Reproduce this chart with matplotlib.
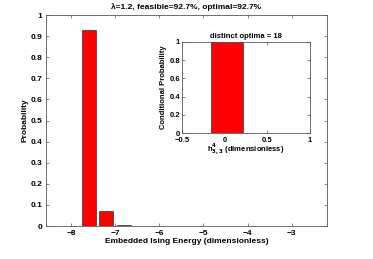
import matplotlib
matplotlib.use("Agg")
import matplotlib.pyplot as plt

plt.rcParams['font.family'] = ['Liberation Sans', 'DejaVu Sans']
plt.rcParams['font.weight'] = 'bold'

# Main histogram data
energy_centers = [-7.6, -7.2, -6.8]
probabilities = [0.927, 0.070, 0.003]
bar_width = 0.32
main_xticks = [-8, -7, -6, -5, -4, -3]
main_yticks = [0, 0.1, 0.2, 0.3, 0.4, 0.5, 0.6, 0.7, 0.8, 0.9, 1]

# Inset data
h_centers = [0.03]
cond_prob = [1.0]
h_width = 0.38
inset_xticks = [-0.5, 0, 0.5, 1]
inset_yticks = [0, 0.2, 0.4, 0.6, 0.8, 1]

fig = plt.figure(figsize=(3.73, 2.59), dpi=100)
ax = fig.add_axes([0.123, 0.127, 0.753, 0.815])
ax.bar(energy_centers, probabilities, width=bar_width, color='#ff0000',
       edgecolor='#333333', linewidth=0.5)
ax.set_xlim(-8.57, -2.205)
ax.set_ylim(0, 1)
ax.set_xticks(main_xticks)
ax.set_xticklabels([f"\u2212{abs(t)}" for t in main_xticks])
ax.set_yticks(main_yticks)
ax.set_yticklabels([f"{t:g}" for t in main_yticks])
ax.tick_params(direction='in', top=True, right=True, labelsize=6, length=2.5,
               width=0.5, color='#555555', pad=2.5)
for s in ax.spines.values():
    s.set_linewidth(0.6)
    s.set_color('#555555')
ax.set_xlabel('Embedded Ising Energy (dimensionless)', fontsize=6, labelpad=1, fontweight='bold')
ax.set_ylabel('Probability', fontsize=6, labelpad=1.5, fontweight='bold')
ax.set_title('\u03bb=1.2, feasible=92.7%, optimal=92.7%', fontsize=6, pad=4, fontweight='bold')

ins = fig.add_axes([0.488, 0.486, 0.343, 0.352])
ins.bar(h_centers, cond_prob, width=h_width, color='#ff0000',
        edgecolor='#333333', linewidth=0.5)
ins.set_xlim(-0.5, 1)
ins.set_ylim(0, 1)
ins.set_xticks(inset_xticks)
ins.set_xticklabels(["\u22120.5", "0", "0.5", "1"])
ins.set_yticks(inset_yticks)
ins.set_yticklabels([f"{t:g}" for t in inset_yticks])
ins.tick_params(direction='in', top=True, right=True, labelsize=5.5, length=2,
                width=0.5, color='#555555')
ins.tick_params(axis='x', pad=2.5)
ins.tick_params(axis='y', pad=1.5)
for s in ins.spines.values():
    s.set_linewidth(0.6)
    s.set_color('#555555')
ins.set_xlabel('h$^4_{3,3}$ (dimensionless)', fontsize=5.5, labelpad=-1, fontweight='bold')
ins.set_ylabel('Conditional Probability', fontsize=5.5, labelpad=2, fontweight='bold')
ins.set_title('distinct optima = 18', fontsize=5.5, pad=3, fontweight='bold')

fig.savefig('out.png', dpi=100)
